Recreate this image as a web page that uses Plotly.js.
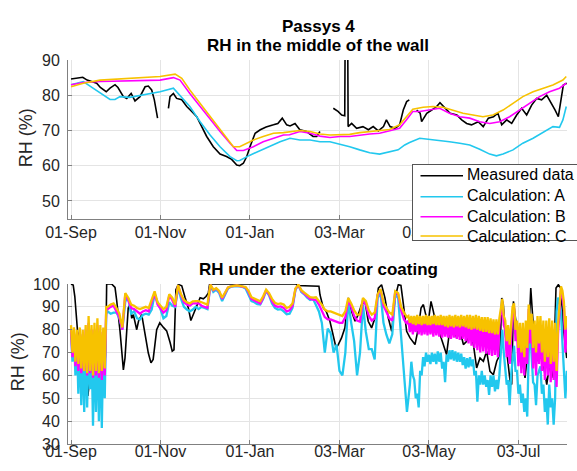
<!DOCTYPE html>
<html>
<head>
<meta charset="utf-8">
<script src="https://cdn.plot.ly/plotly-3.0.1.min.js"></script>
<style>html,body{margin:0;padding:0;background:#fff;}#chart{width:577px;height:471px;}</style>
</head>
<body>
<div id="chart"></div>
<script>
// ---------- Tick labels ----------
const tickDates = ['2014-09-01','2014-11-01','2015-01-01','2015-03-03','2015-05-03','2015-07-03'];
const tickLabels = ['01-Sep','01-Nov','01-Jan','03-Mar','03-May','03-Jul'];
const seriesNames = ['Measured data','Calculation: A','Calculation: B','Calculation: C'];

// ---------- Top panel: RH in the middle of the wall (days since 01-Sep) ----------
const topMeasDays = [0,4,8,11,14,17.5,20,24,26.6,30,32,35.7,38,41,43.6,47,50.5,52.7,55,56.8,58.4,59,62,66.4,67.5,69.8,72,75.5,78.9,82.3,85.7,88,92.5,97,101.6,106,109.5,113,115,117.5,119.8,122,125.5,129,133,138,141,144,147,149.3,152.7,156,160.6,165,167.5,169.7,174,178.8,182,184.5,186.6,186.9,188.6,188.9,191.3,194.7,199,202.7,206,209.5,213,215,217.5,221,224,226.5,228.8,230.6,233,235.6,238,239,242.5,245.9,249.3,251.5,255,258.4,263,266.3,269.7,273,277.6,281,284.5,288,291,293.6,297,300.4,303.8,307.2,310.6,314,317.4,320.8,324.3,327.7,330,332.2,334.5,335.6,337.9];
const topMeasRH = [84.6,84.8,85.1,84.3,83.8,83.4,82.2,81,82,83,82.2,79.6,79.1,80.5,78.4,79.6,82.4,82.6,81.5,78.7,74.9,73.5,null,76.3,79.6,80.5,79.1,78.7,76.8,75.4,73.9,72,68.3,65.4,63.3,62.6,61.8,60.2,60,60.7,62.6,65.4,69.2,70.2,71,71.6,72,73.5,71.6,71.3,72,70.2,69.7,68.3,68.3,69.7,null,76.3,75.4,74.4,74.2,99,99,71.1,72,70.6,71.1,70.2,71.1,69.9,71.1,73,71.1,70.6,71.6,75.8,78.2,78.7,null,75.8,74.9,72.5,74.9,75.8,76.8,77.9,76.3,74.9,74.4,73,72,71.6,72.5,71.1,73.5,73.9,74.9,71.6,73,72,74.4,76.3,74.4,77.2,79.1,78.7,80,77.7,75.8,73.9,80.5,82.9,83.4];

const topADays = [0,8.4,15,22,26.6,30,33.4,40,47,53.9,60.7,69.8,74.3,81,88,94.8,101.6,108.4,113,115,122,129,135.7,142.5,149.3,156,163,169.7,176.5,183.3,190,196.8,203.6,210.4,217.2,223,227.5,230.8,237.7,244.5,251.3,258,265,271.8,278.6,285.4,290,294.5,301.3,308,315,321.7,328.5,333,335.3,337.6];
const topARH = [83,83.9,82,80,78.8,78.8,79.6,79.4,80,80.5,81,82,80,76.8,72.5,68.7,65.4,62.6,61.4,61.5,63,64.3,65.4,66.8,67.8,67.3,67.3,66.8,66.8,66.2,65.4,64.5,63.7,63.3,64,64.5,65.9,66.6,67.8,67.5,67.3,66.8,66.4,65.9,64.7,63.3,62.8,63.3,64.5,66.4,67.8,69.4,71.1,70.9,73,76.8];

const topBDays = [0,8.4,19.8,33.4,47,60.7,69.8,74.3,81,88,94.8,101.6,108.4,113,117.5,124.3,131,138,144.8,149,156,163,169.7,176.5,183.3,190,196.8,203.6,210.4,217.2,224,228.6,233,237.7,244.5,251.3,258,265,271.8,278.6,285.4,292.2,299,305.8,312.6,319.4,326.2,333,337.6];
const topBRH = [83,83.6,83.9,84,84.1,84.3,85,84.3,80.5,76.8,73,69.7,66.4,64.3,64.3,65.4,66.8,67.8,68.7,68.8,69.7,69.2,68.4,68,68.3,68.3,68.7,69,69.2,69.9,70.6,73,75.4,75.4,75.8,76.3,74.9,73.9,73.5,72.5,72,72.5,73.9,75.8,77.7,79.6,81,82,83.4];

const topCDays = [0,8.4,19.8,33.4,47,60.7,71,75.5,81,88,94.8,101.6,108.4,110.7,115,119.8,124.3,131,138,144.8,149,156,163,169.7,176.5,183.3,190,196.8,203.6,210.4,217.2,224,228.6,233,240,246.8,253.6,260.4,267.2,274,280.8,287.6,294.5,301.3,308,315,321.7,328.5,335.3,337.6];
const topCRH = [82.4,83.4,84.3,84.7,84.9,85.3,86,84.8,81.5,77.7,73.9,70.2,66.4,65.4,65.4,66.4,67.3,68.3,69.2,69.4,69.7,70,69.7,69,68.7,68.7,68.9,69.4,69.7,69.9,70.3,71.6,73.9,76,76.6,76.8,76.6,75.8,74.9,74.4,73.9,74.4,75.8,77.7,79.6,81,82,82.9,84.3,85.3];

// ---------- Bottom panel: RH under the exterior coating ----------
const bottomMeasDays = [0,1.5,2.6,3.5,4.5,6,7,8,9,10.5,11.5,12.5,14,15.5,17,18.5,20,21,22,23,23.8,24.3,27.7,30,31.1,33.4,35.7,36.8,39,40.2,41.4,42.5,44.8,46,48.2,50.5,52.7,54.5,56,58.4,60.5,63,65.2,67.5,69,70.2,71.5,73.2,75.5,77.7,80,81.7,83.4,85.7,88,90.2,92,93.6,94.5,153.5,154,169,169.7,172,174,176.5,178.8,180.7,182.2,184.4,186.7,189,191.3,193.6,195.8,198.1,200.4,202.6,204.9,207.2,209.5,211.7,214,216.3,218.6,220.9,223.1,224.9,226.6,228.8,231.1,234.5,236.8,238.6,240.2,241.8,243.6,245.4,247,249.3,251.5,253.8,256,258.3,260.6,262.9,265.2,267.5,269.7,272,274.3,276.5,278.8,281.1,283.3,285.6,287.9,290.2,292.4,293.6,294.7,297,299.3,300.4,301.6,303.8,307.2,309.5,311.8,313.4,315.2,317.5,319.7,322,324.3,326.5,328.8,330.6,332.2,333.8,335.6,337.9];
const bottomMeasRH = [100,99.5,94.5,85,79,76,70,66,62,55,51,57,64,68,62,53,57,60,59,62,75,100,100,98.5,93,79.5,62.4,67.6,89.5,91,85,86.6,80,83.7,86.6,77,69.8,65.5,67,80,83,81,79.5,74.5,70.6,71.2,97.5,99.8,99.2,94.2,89.5,84,86.5,90,94,93.5,94.5,96,100,100,99.3,99,95.3,89.5,88,83.7,77.8,72,73.5,76.4,80.8,93.9,88,83.7,86.6,91,92.4,83.7,80.8,85.1,98.2,99.7,93.9,85.1,79.3,93.9,99.7,99.4,91,79.3,76.4,73.5,80.8,89.5,91,86.6,83.7,92.4,88,80.8,78,73.5,69.1,80.8,82.2,76.4,79.3,73.5,74.9,79.3,73.5,63.3,67.6,66.2,70.6,61.8,60.3,66.2,69.1,93.9,91,70.6,57.4,56,92.4,80.8,69.1,58.9,73.5,98.2,80.8,66.2,73.5,64.7,56,66.2,58.9,98.2,99.7,98.2,80.8,67.6];

// Calculation days: daily readings from 01-Sep to 25-Sep, every second day to 17-Apr, then daily to the end
const calcSegments = [[0,24,1],[25,229,2],[230,338,1]];

const bottomARH = [
  79,66,78,60,76,52,75,47,74,44,75,46,78,54,74,38,75,44,77,40,74,37,73,50,87,
  88,87,87.5,87.5,85,80,92.4,93.9,87,88,
  85,84.5,86.5,87,86.6,88.8,95.5,92,89,85,
  86,92,90.5,90,98.5,93.5,90,88.8,88,88.8,
  90,89,90,89.5,89,99.3,96.5,97.5,96,92.5,
  95,98,98.8,99,99.1,99,98.7,98,95.5,92.5,
  92,91.2,91,93.5,97,95,91.5,89.5,88.8,89,
  88,86.8,87,89.5,97.5,99.5,96.5,95.5,94,93,
  93.5,91,88,83,70,80.5,78.5,70,73.5,62,
  60,70,92.4,83,75,60,70,91,79,71.5,
  71.5,67,93.9,96,83,77.8,74,78,95.3,93.9,
  78,63,44,
  50,56,66,60,58,50,52,46,62,60,
  68,64,70,66,69,65,70,66,69.5,65,
  70.5,66,70,63,66,57,69,66,71,67,
  71,66.5,70.5,66,70,66,69.5,64.5,68,63,
  67.5,63.5,68,64,67,60,62,48.5,60,56,
  62,56,60,55,58,51.5,60,55,60,53,
  58,54,60,70,80,70,64,56,58,47,
  60,68,73,62,62,52,56,48,52,44,
  50,42,70,80,68,57,56,47,60,62,
  64,52,56,44,50,38.5,56,46,50,38.5,
  50,88,94,92,88,74,60,50,62];

const bottomBRH = [
  80,68,79,64,78,62,79,61,78,62,80,60,83,61,80,59,80,60,82,59,79,58,78,60,89,
  89,90,90.5,88,85.5,80,95.5,93,89.5,89,
  88,87,88,88.5,88,92,96,91,89,87.5,
  88.5,95,93,90,99.3,95,92,91,90.5,91.5,
  91.5,91.5,90.5,90,89.5,99.6,97.3,98,96.7,93.5,
  95.8,98.4,99,99.2,99.3,99.1,98.9,98.5,96.5,93.5,
  92.8,92,91.5,94,97.3,95.5,92.5,90.5,90,90.2,
  89.5,88,88.5,90.5,97.8,99.6,97,95.8,94.5,93.5,
  93.2,93,91,88.5,85.5,84.5,84.5,84,83.5,83,
  83,85.5,93,90,86,84,83.5,93,91,86,
  84,85,95,97.5,90.5,87.5,85,84,96.5,95.5,
  88.5,84.5,82.5,
  84,79,84,78,84,79,84.5,78,84,77.5,
  84,78,84.5,77.5,84,78,84,77,84.5,77.5,
  84,77,84,76.5,84,77,84,76.5,84,76,
  84,76.5,84,76,84,75.5,84,76,83.5,75,
  84,74,84,73,83.5,72,83.5,71,83,70,
  83,70.5,82.5,69.5,82.5,69,82,68.5,81.5,69,
  81.5,68,82,86,92,82,80,68,78,65,
  80,88,90,75,80,64,79,61,79,60,
  80,65,89,74,83,63,80,60,82,65,
  82,62,80,58,80,60,81,57,80,58,
  79,55,78,88,98,95,90,70,82];

const bottomCRH = [
  82,70,81,66,80,65,81,63,80,62,82,61,86,62,82,60,83,62,85,61,82,62,81,63,90,
  90,91,91.5,89.5,87,81,96,94,91,90.5,
  89.5,89,89.5,90,89.5,93,96.8,92,90.5,89,
  90,95.5,94,91,99.5,95.5,93,92,91.5,92.4,
  92.5,92.5,92,91.5,91,99.7,97.5,98.2,97,94,
  96,98.5,99,99.3,99.4,99.2,99,98.7,97,94.2,
  93.6,93,92.4,94.6,97.5,96,93.5,91.8,91.2,91.5,
  91,89.5,90,91.5,98,99.7,97.3,96.2,95,94.2,
  94,94.2,92.5,91,88.8,88,88,87.5,86.8,86.2,
  86,88,93.9,91.5,88.5,86.6,86.6,93.9,92.5,88.5,
  86.6,87.5,95.5,97.8,92,89.5,87.5,86.6,96.8,96,
  90,87.5,85.5,
  86,83,86,82.5,86,82,86.5,82.5,86,82,
  86,82.5,86.5,82,86,82,86,82.5,86.5,82,
  86,82,86.5,82,86,81.5,86,81,86.5,81.5,
  86,81,86.5,81.5,86,81,86.5,81.5,86,81,
  86.5,80.5,86.5,80,86,80.5,86.5,80,86,79.5,
  85.5,79,85.5,79,85.5,78.5,85,78.5,84.5,78,
  84.5,78,85,89,93.5,86,84,75,82,73.5,
  84,90,91.5,80,84,72,83,70,83,68,
  84,72,91,80,87,72,84,70,86,74,
  86,70,84,66,84,68,85,65,84,66,
  83,62,82,90,99,97,92,80,86];

// ---------- helpers ----------
const START = Date.UTC(2014, 8, 1);
function pad(n){ return (n < 10 ? '0' : '') + n; }
function dayToDate(d){
  const t = new Date(START + Math.round(d * 86400000));
  return t.getUTCFullYear() + '-' + pad(t.getUTCMonth()+1) + '-' + pad(t.getUTCDate()) + ' ' + pad(t.getUTCHours()) + ':' + pad(t.getUTCMinutes());
}
const calcDays = [];
calcSegments.forEach(function(s){ for (let d = s[0]; d <= s[1]; d += s[2]) calcDays.push(d); });
const calcDates = calcDays.map(dayToDate);

const COLORS = ['#000000', '#22c8ee', '#ff00ff', '#f7c200'];
const W = 1.6, WB = 2.3;

const traces = [
  {x: topMeasDays.map(dayToDate), y: topMeasRH, name: seriesNames[0], line:{color:COLORS[0], width:W}},
  {x: topADays.map(dayToDate), y: topARH, name: seriesNames[1], line:{color:COLORS[1], width:W}},
  {x: topBDays.map(dayToDate), y: topBRH, name: seriesNames[2], line:{color:COLORS[2], width:W}},
  {x: topCDays.map(dayToDate), y: topCRH, name: seriesNames[3], line:{color:COLORS[3], width:W}},
  {x: bottomMeasDays.map(dayToDate), y: bottomMeasRH, name: seriesNames[0], xaxis:'x2', yaxis:'y2', line:{color:COLORS[0], width:W}},
  {x: calcDates, y: bottomARH, name: seriesNames[1], xaxis:'x2', yaxis:'y2', line:{color:COLORS[1], width:WB}},
  {x: calcDates, y: bottomBRH, name: seriesNames[2], xaxis:'x2', yaxis:'y2', line:{color:COLORS[2], width:WB}},
  {x: calcDates, y: bottomCRH, name: seriesNames[3], xaxis:'x2', yaxis:'y2', line:{color:COLORS[3], width:WB}}
];
traces.forEach(function(t){ t.type = 'scatter'; t.mode = 'lines'; t.hoverinfo = 'skip'; t.showlegend = false; });

const FONT = 'Liberation Sans, Arial, Helvetica, sans-serif';
const tickFont = {family: FONT, size: 16, color: '#262626'};
const xRange = [dayToDate(-2.05), dayToDate(338.1)];

function xAxis(anchor, standoff){
  return {anchor: anchor, range: xRange, type: 'date', tickvals: tickDates, ticktext: tickLabels,
    ticks: 'inside', ticklen: 4, tickcolor: '#808080', tickwidth: 1,
    showgrid: true, gridcolor: '#e4e4e4', gridwidth: 1, showline: true, linecolor: '#808080', linewidth: 1,
    zeroline: false, tickfont: tickFont, ticklabelstandoff: standoff, fixedrange: true};
}
function yAxis(anchor, domain, range, vals){
  return {anchor: anchor, domain: domain, range: range, tickvals: vals,
    ticks: 'inside', ticklen: 4, tickcolor: '#808080', tickwidth: 1,
    showgrid: true, gridcolor: '#e4e4e4', gridwidth: 1, showline: true, linecolor: '#808080', linewidth: 1,
    zeroline: false, tickfont: tickFont, ticklabelstandoff: 4, fixedrange: true};
}

const titleFont = {family: FONT, size: 17, color: '#000'};
const axisTitleFont = {family: FONT, size: 18, color: '#262626'};

// ---------- legend (boxed, inside the top panel, covering its lower-right corner) ----------
const legendBoxPos = {x: 0.6888, y: 0.7284};
const legendRows = [0.6987, 0.6440, 0.5919, 0.5417];
const legendLineEnd = 0.7916;
const legendTextPos = {x: 0.7960, y: 0.6202};

const annotations = [
  {text: '<b>Passys 4</b>', xref: 'paper', yref: 'paper', x: 0.502, y: 1.088, xanchor: 'center', yanchor: 'middle', showarrow: false, font: titleFont},
  {text: '<b>RH in the middle of the wall</b>', xref: 'paper', yref: 'paper', x: 0.502, y: 1.038, xanchor: 'center', yanchor: 'middle', showarrow: false, font: titleFont},
  {text: '<b>RH under the exterior coating</b>', xref: 'paper', yref: 'paper', x: 0.502, y: 0.4557, xanchor: 'center', yanchor: 'middle', showarrow: false, font: titleFont},
  {text: 'RH (%)', textangle: -90, xref: 'paper', yref: 'paper', x: -0.0846, y: 0.798, xanchor: 'center', yanchor: 'middle', showarrow: false, font: axisTitleFont},
  {text: 'RH (%)', textangle: -90, xref: 'paper', yref: 'paper', x: -0.1012, y: 0.2143, xanchor: 'center', yanchor: 'middle', showarrow: false, font: axisTitleFont},
  // legend frame
  {text: ' ', xref: 'paper', yref: 'paper', x: legendBoxPos.x, y: legendBoxPos.y, xanchor: 'left', yanchor: 'top', showarrow: false,
    width: 180, height: 75, bgcolor: '#ffffff', bordercolor: '#555555', borderwidth: 1, borderpad: 0, font: {family: FONT, size: 16}},
  // legend labels
  {text: seriesNames.join('<br>'), align: 'left', xref: 'paper', yref: 'paper', x: legendTextPos.x, y: legendTextPos.y, xanchor: 'left', yanchor: 'middle',
    showarrow: false, font: {family: FONT, size: 16, color: '#000'}}
];
// legend line samples
seriesNames.forEach(function(name, i){
  annotations.push({text: '', xref: 'paper', yref: 'paper', x: legendLineEnd, y: legendRows[i], showarrow: true, arrowhead: 0,
    arrowwidth: 1.6, arrowcolor: COLORS[i], ax: -44, ay: 0, standoff: 0, startstandoff: 0});
});

const layout = {
  width: 577, height: 471,
  margin: {l: 68, r: 10, t: 60, b: 27, pad: 0},
  paper_bgcolor: '#ffffff', plot_bgcolor: '#ffffff',
  showlegend: false,
  xaxis: xAxis('y', -1),
  yaxis: yAxis('x', [0.587, 1], [45, 90], [50,60,70,80,90]),
  xaxis2: xAxis('y2', -7),
  yaxis2: yAxis('x2', [0, 0.4167], [30, 100], [30,40,50,60,70,80,90,100]),
  annotations: annotations
};

Plotly.newPlot('chart', traces, layout, {staticPlot: true, displayModeBar: false});
</script>
</body>
</html>
